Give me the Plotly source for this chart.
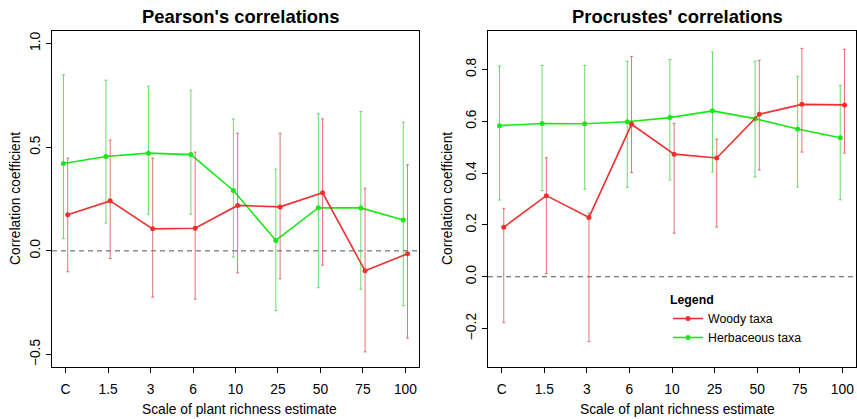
import plotly.graph_objects as go

# Scales at which plant richness was estimated
scales = ["C", "1.5", "3", "6", "10", "25", "50", "75", "100"]

# Pearson's correlations: estimates and 95% interval bounds
pearson_woody = [0.174, 0.241, 0.106, 0.109, 0.219, 0.212, 0.280, -0.096, -0.014]
pearson_woody_hi = [0.447, 0.534, 0.447, 0.476, 0.567, 0.567, 0.636, 0.302, 0.415]
pearson_woody_lo = [-0.101, -0.037, -0.223, -0.233, -0.106, -0.135, -0.069, -0.487, -0.421]

pearson_herb = [0.421, 0.455, 0.471, 0.464, 0.291, 0.050, 0.208, 0.207, 0.149]
pearson_herb_hi = [0.849, 0.823, 0.794, 0.775, 0.636, 0.394, 0.661, 0.672, 0.620]
pearson_herb_lo = [0.059, 0.134, 0.177, 0.177, -0.030, -0.288, -0.178, -0.185, -0.264]

# Procrustes' correlations: estimates and 95% interval bounds
procr_woody = [0.191, 0.313, 0.229, 0.588, 0.473, 0.458, 0.627, 0.665, 0.663]
procr_woody_hi = [0.264, 0.459, 0.245, 0.850, 0.592, 0.531, 0.835, 0.881, 0.877]
procr_woody_lo = [-0.177, 0.012, -0.250, 0.402, 0.168, 0.192, 0.412, 0.481, 0.477]

procr_herb = [0.583, 0.591, 0.590, 0.598, 0.614, 0.640, 0.610, 0.570, 0.536]
procr_herb_hi = [0.813, 0.815, 0.815, 0.831, 0.838, 0.867, 0.832, 0.773, 0.738]
procr_herb_lo = [0.296, 0.333, 0.338, 0.345, 0.373, 0.404, 0.385, 0.346, 0.297]

WOODY = "#ee3030"
HERB = "#18e818"
WOODY_BAR = "rgba(220,80,80,0.8)"
HERB_BAR = "rgba(70,210,70,0.8)"
FONT = "Liberation Sans, Arial, Helvetica, sans-serif"
AXIS_SIZE = 13.8

W, H = 857, 419
idx = list(range(1, len(scales) + 1))
dodge = 0.05


def px_x(p):
    return p / W


def px_y(p):
    return 1 - p / H


fig = go.Figure()


def add_series(xaxis, yaxis, est, hi, lo, shift, color, bar_color, name, show):
    fig.add_trace(go.Scatter(
        x=[i + shift for i in idx], y=est,
        mode="lines+markers", name=name, showlegend=show,
        line=dict(color=color, width=1.6),
        marker=dict(color=color, size=5),
        error_y=dict(type="data", symmetric=False,
                     array=[h - e for h, e in zip(hi, est)],
                     arrayminus=[e - l for e, l in zip(est, lo)],
                     color=bar_color, thickness=1, width=1.5),
        xaxis=xaxis, yaxis=yaxis,
    ))


# Herbaceous first so woody lines sit on top
add_series("x", "y", pearson_herb, pearson_herb_hi, pearson_herb_lo, -dodge, HERB, HERB_BAR, "Herbaceous taxa", False)
add_series("x", "y", pearson_woody, pearson_woody_hi, pearson_woody_lo, dodge, WOODY, WOODY_BAR, "Woody taxa", False)
add_series("x2", "y2", procr_herb, procr_herb_hi, procr_herb_lo, -dodge, HERB, HERB_BAR, "Herbaceous taxa", True)
add_series("x2", "y2", procr_woody, procr_woody_hi, procr_woody_lo, dodge, WOODY, WOODY_BAR, "Woody taxa", True)

y_dom = [px_y(367), px_y(31)]
xa_common = dict(range=[0.68, 9.32], tickvals=idx, ticktext=scales,
                 showgrid=False, zeroline=False, showline=True, mirror=True,
                 linecolor="black", linewidth=1, ticks="outside", ticklen=5,
                 tickcolor="black", tickfont=dict(family=FONT, size=AXIS_SIZE, color="black"),
                 ticklabelstandoff=4)
ya_common = dict(showgrid=False, zeroline=False, showline=True, mirror=True,
                 linecolor="black", linewidth=1, ticks="outside", ticklen=5,
                 tickcolor="black", tickangle=-90,
                 tickfont=dict(family=FONT, size=AXIS_SIZE, color="black"),
                 ticklabelstandoff=0)

fig.update_layout(
    width=W, height=H, margin=dict(l=0, r=0, t=0, b=0),
    paper_bgcolor="white", plot_bgcolor="white",
    font=dict(family=FONT, size=12, color="black"),
    xaxis=dict(domain=[px_x(52), px_x(419)], anchor="y", **xa_common),
    yaxis=dict(domain=y_dom, anchor="x", range=[-0.56, 1.06],
               tickvals=[-0.5, 0.0, 0.5, 1.0], ticktext=["\u22120.5", "0.0", "0.5", "1.0"],
               **ya_common),
    xaxis2=dict(domain=[px_x(488), px_x(856)], anchor="y2", **xa_common),
    yaxis2=dict(domain=y_dom, anchor="x2", range=[-0.348, 0.948],
                tickvals=[-0.2, 0.0, 0.2, 0.4, 0.6, 0.8],
                ticktext=["\u22120.2", "0.0", "0.2", "0.4", "0.6", "0.8"],
                **ya_common),
    legend=dict(x=px_x(668), y=px_y(288), xanchor="left", yanchor="top",
                title=dict(text="<b>Legend</b>", side="top", font=dict(size=12.3)),
                bgcolor="rgba(0,0,0,0)", font=dict(family=FONT, size=12.3),
                traceorder="reversed", itemwidth=30, tracegroupgap=0),
    showlegend=True,
)

# Reference line at zero on both panels
for xr, yr in (("x domain", "y"), ("x2 domain", "y2")):
    fig.add_shape(type="line", xref=xr, yref=yr, x0=0, x1=1, y0=0, y1=0,
                  line=dict(color="#555555", width=1, dash="5px,4px"), layer="below")

# Panel titles
for text, xc in (("Pearson's correlations", 241), ("Procrustes' correlations", 677)):
    fig.add_annotation(text=f"<b>{text}</b>", x=px_x(xc), y=px_y(16), xref="paper", yref="paper",
                       showarrow=False, xanchor="center", yanchor="middle",
                       font=dict(family=FONT, size=18.4, color="black"))

# Axis titles
for xc in (240, 677):
    fig.add_annotation(text="Scale of plant richness estimate", x=px_x(xc), y=px_y(409),
                       xref="paper", yref="paper", showarrow=False,
                       xanchor="center", yanchor="middle", font=dict(family=FONT, size=AXIS_SIZE))
for xc in (15, 447):
    fig.add_annotation(text="Correlation coefficient", x=px_x(xc), y=px_y(199),
                       xref="paper", yref="paper", showarrow=False, textangle=-90,
                       xanchor="center", yanchor="middle", font=dict(family=FONT, size=AXIS_SIZE))

fig.write_html("out.html")
